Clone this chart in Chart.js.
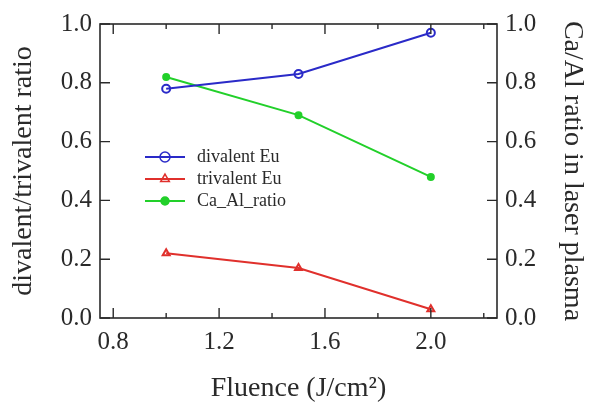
<!DOCTYPE html>
<html>
<head>
<meta charset="utf-8">
<script src="https://cdn.jsdelivr.net/npm/chart.js@4.4.1/dist/chart.umd.min.js"></script>
<style>
    html, body { margin: 0; padding: 0; background: #fff; }
    #wrap { width: 594px; height: 408px; }
</style>
</head>
<body>
<div id="wrap"><canvas id="chart"></canvas></div>
<script>
// fluence values (J/cm^2)
const fluence = [1.0, 1.5, 2.0];
const divalentEu = [0.78, 0.83, 0.97];
const trivalentEu = [0.22, 0.17, 0.03];
const caAlRatio = [0.82, 0.69, 0.48];

const xMajorTicks = [0.8, 1.2, 1.6, 2.0];
const xMinorTicks = [1.0, 1.4, 1.8, 2.2];
const yTicks = [0.0, 0.2, 0.4, 0.6, 0.8, 1.0];

const serif = '"Liberation Serif", "DejaVu Serif", serif';
const ink = '#2a2a2a';

const toPoints = ys => fluence.map((x, i) => ({ x: x, y: ys[i] }));

// frame + inward ticks on all four sides
const framePlugin = {
    id: 'frame',
    afterDatasetsDraw(chart) {
        const { ctx, chartArea: a, scales } = chart;
        ctx.save();
        ctx.strokeStyle = ink;
        ctx.lineWidth = 1.6;
        ctx.strokeRect(a.left, a.top, a.right - a.left, a.bottom - a.top);
        ctx.lineWidth = 1.4;
        ctx.beginPath();
        const xt = (v, len) => {
            const px = scales.x.getPixelForValue(v);
            ctx.moveTo(px, a.bottom); ctx.lineTo(px, a.bottom - len);
            ctx.moveTo(px, a.top); ctx.lineTo(px, a.top + len);
        };
        xMajorTicks.forEach(v => xt(v, 10));
        xMinorTicks.forEach(v => xt(v, 5));
        yTicks.forEach(v => {
            const py = scales.y.getPixelForValue(v);
            ctx.moveTo(a.left, py); ctx.lineTo(a.left + 10, py);
            ctx.moveTo(a.right, py); ctx.lineTo(a.right - 10, py);
        });
        ctx.stroke();
        ctx.restore();
    }
};

// legend drawn inside the plot
const legendPlugin = {
    id: 'innerLegend',
    afterDatasetsDraw(chart) {
        const { ctx, chartArea: a } = chart;
        const x0 = a.left + 45, y0 = a.top + 133, row = 22;
        ctx.save();
        chart.data.datasets.forEach((ds, i) => {
            const y = y0 + i * row;
            ctx.strokeStyle = ds.borderColor;
            ctx.lineWidth = 2;
            ctx.beginPath();
            ctx.moveTo(x0, y); ctx.lineTo(x0 + 40, y);
            ctx.stroke();
            ctx.fillStyle = ds.pointBackgroundColor;
            ctx.lineWidth = 1.5;
            Chart.helpers.drawPoint(ctx, {
                pointStyle: ds.pointStyle,
                radius: ds.pointRadius + 1,
                borderWidth: 1.5
            }, x0 + 20, y);
            ctx.fillStyle = ink;
            ctx.font = '18px ' + serif;
            ctx.textBaseline = 'middle';
            ctx.fillText(ds.label, x0 + 52, y);
        });
        ctx.restore();
    }
};

const tickFont = { family: serif, size: 25 };
const titleFont = { family: serif, size: 28 };

new Chart(document.getElementById('chart').getContext('2d'), {
    type: 'line',
    data: {
        datasets: [{
            label: 'divalent Eu',
            data: toPoints(divalentEu),
            borderColor: '#2a2ac8',
            pointBackgroundColor: 'rgba(0,0,0,0)',
            pointStyle: 'circle',
            pointRadius: 4,
            borderWidth: 2,
            yAxisID: 'y'
        }, {
            label: 'trivalent Eu',
            data: toPoints(trivalentEu),
            borderColor: '#e0302c',
            pointBackgroundColor: 'rgba(0,0,0,0)',
            pointStyle: 'triangle',
            pointRadius: 4,
            borderWidth: 2,
            yAxisID: 'y'
        }, {
            label: 'Ca_Al_ratio',
            data: toPoints(caAlRatio),
            borderColor: '#22d02a',
            pointBackgroundColor: '#22d02a',
            pointStyle: 'circle',
            pointRadius: 3,
            borderWidth: 2,
            yAxisID: 'y2'
        }]
    },
    options: {
        responsive: true,
        maintainAspectRatio: false,
        animation: false,
        layout: { padding: { top: 24, left: 0, right: 0, bottom: 0 } },
        plugins: {
            legend: { display: false },
            tooltip: { enabled: false }
        },
        scales: {
            x: {
                type: 'linear',
                min: 0.75,
                max: 2.25,
                afterBuildTicks: s => { s.ticks = xMajorTicks.map(v => ({ value: v })); },
                afterFit: s => { s.height = 90; },
                grid: { display: false, drawTicks: false },
                border: { display: false },
                ticks: {
                    font: tickFont, color: ink, padding: 9,
                    maxRotation: 0,
                    callback: v => v.toFixed(1)
                },
                title: {
                    display: true, text: 'Fluence (J/cm²)',
                    font: titleFont, color: ink, padding: { top: 0, bottom: 3 }
                }
            },
            y: {
                position: 'left',
                min: 0, max: 1,
                afterBuildTicks: s => { s.ticks = yTicks.map(v => ({ value: v })); },
                afterFit: s => { s.width = 100; },
                grid: { display: false, drawTicks: false },
                border: { display: false },
                ticks: { font: tickFont, color: ink, padding: 8, callback: v => v.toFixed(1) },
                title: {
                    display: true, text: 'divalent/trivalent ratio',
                    font: titleFont, color: ink, padding: { top: 7, bottom: 0 }
                }
            },
            y2: {
                position: 'right',
                min: 0, max: 1,
                afterBuildTicks: s => { s.ticks = yTicks.map(v => ({ value: v })); },
                afterFit: s => { s.width = 97; },
                grid: { display: false, drawTicks: false },
                border: { display: false },
                ticks: { font: tickFont, color: ink, padding: 8, callback: v => v.toFixed(1) },
                title: {
                    display: true, text: 'Ca/Al ratio in laser plasma',
                    font: titleFont, color: ink, padding: { top: 5, bottom: 0 }
                }
            }
        }
    },
    plugins: [framePlugin, legendPlugin]
});
</script>
</body>
</html>
